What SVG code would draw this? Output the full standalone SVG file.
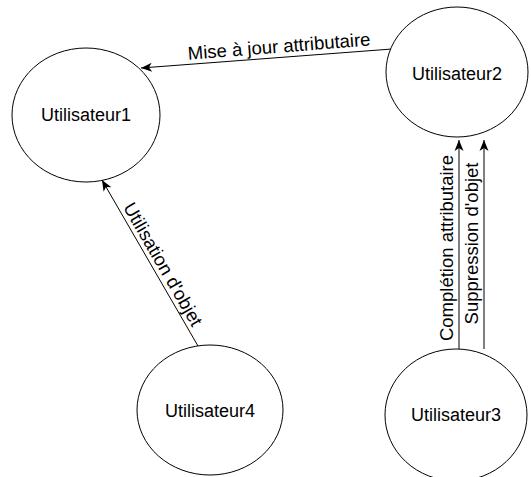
<svg xmlns="http://www.w3.org/2000/svg" width="531" height="477" viewBox="0 0 531 477">
  <style>
    .node ellipse { fill: #ffffff; stroke: #000000; stroke-width: 1; }
    .node text { font-family: "Liberation Sans", Arial, sans-serif; font-size: 18px; fill: #000000; text-anchor: middle; dominant-baseline: central; }
    .edge line { stroke: #000000; stroke-width: 1; marker-end: url(#arrow); }
    .edge text { font-family: "Liberation Sans", Arial, sans-serif; font-size: 18.5px; fill: #000000; text-anchor: middle; }
  </style>
  <defs>
    <marker id="arrow" markerUnits="userSpaceOnUse" markerWidth="12" markerHeight="10" refX="11" refY="4.5" orient="auto" overflow="visible">
      <path d="M0,0 L11,4.5 L0,9 L3,4.5 Z" fill="#000000"/>
    </marker>
  </defs>

  <g id="connectors">
    <g class="edge" id="e-u2-u1">
      <line x1="392" y1="49" x2="141" y2="68"/>
      <text transform="translate(280,57.6) rotate(-4.5)" y="-5">Mise à jour attributaire</text>
    </g>
    <g class="edge" id="e-u4-u1">
      <line x1="198" y1="346" x2="102" y2="180"/>
      <text transform="translate(155,269) rotate(60)" y="-3">Utilisation d'objet</text>
    </g>
    <g class="edge" id="e-u3-u2-a">
      <line x1="459" y1="349" x2="459" y2="140"/>
      <text transform="translate(459,248) rotate(-90)" y="-6">Complétion attributaire</text>
    </g>
    <g class="edge" id="e-u3-u2-b">
      <line x1="484" y1="349" x2="484" y2="140"/>
      <text transform="translate(484,243.5) rotate(-90)" y="-6">Suppression d'objet</text>
    </g>
  </g>

  <g class="node" id="utilisateur1">
    <ellipse cx="86" cy="115" rx="74" ry="67"/>
    <text x="86" y="115">Utilisateur1</text>
  </g>
  <g class="node" id="utilisateur2">
    <ellipse cx="457" cy="72" rx="71" ry="65"/>
    <text x="457" y="74">Utilisateur2</text>
  </g>
  <g class="node" id="utilisateur3">
    <ellipse cx="456" cy="415" rx="71" ry="66"/>
    <text x="456" y="415">Utilisateur3</text>
  </g>
  <g class="node" id="utilisateur4">
    <ellipse cx="210" cy="410" rx="73" ry="65"/>
    <text x="210" y="411">Utilisateur4</text>
  </g>
</svg>
